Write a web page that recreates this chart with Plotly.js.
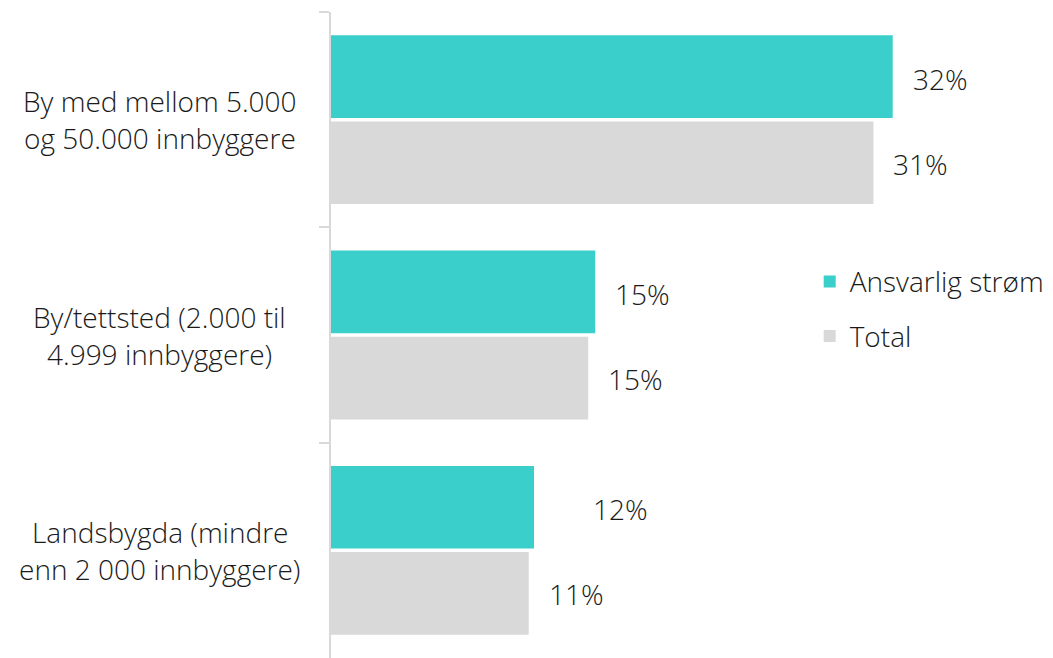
<!DOCTYPE html>
<html>
<head>
<meta charset="utf-8">
<script src="https://cdn.plot.ly/plotly-3.0.1.min.js"></script>
<style>html,body{margin:0;padding:0;background:#fff;}#chart{width:1053px;height:658px;}</style>
</head>
<body>
<div id="chart"></div>
<script>
const categories = [
  "By med mellom 5.000<br>og 50.000 innbyggere",
  "By/tettsted (2.000 til<br>4.999 innbyggere)",
  "Landsbygda (mindre<br>enn 2 000 innbyggere)"
];
const seriesNames = ["Ansvarlig strøm", "Total"];
const ansvarligValues = [32.1, 15.1, 11.6];
const totalValues = [31.0, 14.7, 11.3];
const ansvarligLabels = ["32%", "15%", "12%"];
const totalLabels = ["31%", "15%", "11%"];

const FONT = "'Open Sans', Lato, sans-serif";
const TXT = "#1A1A1A";
const FS = 28;
// label offset (px) from bar end, as positioned in the original chart
const ansvarligLabelGap = [18, 18, 57];
const totalLabelGap = [18, 18, 18];

const traces = [
  {type: "bar", orientation: "h", name: seriesNames[0], y: categories, x: ansvarligValues,
   marker: {color: "#3ACFCA"}, legendgroup: "a", hoverinfo: "skip"},
  {type: "bar", orientation: "h", name: seriesNames[1], y: categories, x: totalValues,
   marker: {color: "#D9D9D9"}, legendgroup: "b", hoverinfo: "skip"}
];

const annotations = [];
categories.forEach((c, i) => {
  const lines = c.split("<br>");
  lines.forEach((ln, j) => {
    annotations.push({xref: "paper", yref: "y", x: -0.237, y: c, text: ln, showarrow: false,
      xanchor: "center", yanchor: "middle", align: "center",
      yshift: (lines.length - 1) / 2 * 37 - j * 37,
      font: {family: FONT, size: FS, color: TXT, weight: 300}});
  });
  annotations.push({xref: "x", yref: "y", x: ansvarligValues[i], y: c, text: ansvarligLabels[i],
    showarrow: false, xanchor: "left", yanchor: "middle", xshift: ansvarligLabelGap[i], yshift: 41,
    font: {family: FONT, size: FS, color: TXT, weight: 300}});
  annotations.push({xref: "x", yref: "y", x: totalValues[i], y: c, text: totalLabels[i],
    showarrow: false, xanchor: "left", yanchor: "middle", xshift: totalLabelGap[i], yshift: -44,
    font: {family: FONT, size: FS, color: TXT, weight: 300}});
});

const layout = {
  width: 1053, height: 658,
  margin: {l: 331, r: 0, t: 12, b: 0, pad: 0},
  paper_bgcolor: "#fff", plot_bgcolor: "#fff",
  barmode: "group", bargap: 0.2, bargroupgap: 0.04,
  font: {family: FONT, size: FS, color: TXT},
  xaxis: {visible: false, range: [0, 41.26], fixedrange: true},
  yaxis: {autorange: "reversed", showticklabels: false, showline: true, linecolor: "#D9D9D9",
    linewidth: 2, ticks: "outside", tickson: "boundaries", ticklen: 10, tickcolor: "#D9D9D9",
    tickwidth: 2, showgrid: false, zeroline: false, fixedrange: true},
  showlegend: true,
  legend: {x: 0.663, y: 0.621, xanchor: "left", yanchor: "top", traceorder: "grouped",
    tracegroupgap: 15, font: {family: FONT, size: FS, color: TXT, weight: 300}, bgcolor: "rgba(0,0,0,0)"},
  annotations: annotations
};

Plotly.newPlot("chart", traces, layout, {displayModeBar: false, staticPlot: true});
</script>
</body>
</html>
